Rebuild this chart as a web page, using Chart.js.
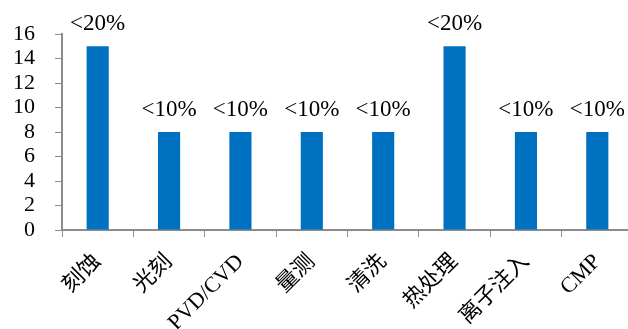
<!DOCTYPE html>
<html lang="en">
<head>
    <meta charset="UTF-8">
    <title>Bar chart</title>
    <script src="https://cdn.jsdelivr.net/npm/chart.js"></script>
    <style>
        body { margin: 0; overflow: hidden; background: #fff; }
    </style>
</head>
<body>
    <canvas id="myChart" width="633" height="329"></canvas>
    <script>
        // data
        const categories = ['刻蚀', '光刻', 'PVD/CVD', '量测', '清洗', '热处理', '离子注入', 'CMP'];
        const values = [15, 8, 8, 8, 8, 15, 8, 8];
        const shareLabels = ['<20%', '<10%', '<10%', '<10%', '<10%', '<20%', '<10%', '<10%'];
        const yTicks = [0, 2, 4, 6, 8, 10, 12, 14, 16];

        const fontFamily = "'Liberation Serif', 'Times New Roman', 'Noto Sans CJK SC', serif";
        const axisColor = '#8c8c8c';

        // draw the "<20%" labels above bars
        const shareLabelPlugin = {
            id: 'shareLabels',
            afterDatasetsDraw(chart) {
                const ctx = chart.ctx;
                const meta = chart.getDatasetMeta(0);
                ctx.save();
                ctx.font = '23px ' + fontFamily;
                ctx.fillStyle = '#000';
                ctx.textAlign = 'center';
                ctx.textBaseline = 'alphabetic';
                meta.data.forEach((bar, i) => {
                    ctx.fillText(shareLabels[i], bar.x, bar.y - 16);
                });
                ctx.restore();
            }
        };

        const ctx = document.getElementById('myChart').getContext('2d');
        const myChart = new Chart(ctx, {
            type: 'bar',
            data: {
                labels: categories,
                datasets: [{
                    data: values,
                    backgroundColor: '#0070c0',
                    borderWidth: 0,
                    barPercentage: 0.62,
                    categoryPercentage: 0.5
                }]
            },
            options: {
                responsive: false,
                animation: false,
                layout: { padding: { top: 34, left: 0, right: 0, bottom: 0 } },
                plugins: {
                    legend: { display: false },
                    tooltip: { enabled: false }
                },
                scales: {
                    x: {
                        grid: {
                            offset: true,
                            drawOnChartArea: false,
                            drawTicks: true,
                            tickLength: 7,
                            color: axisColor
                        },
                        border: { display: true, color: axisColor, width: 2 },
                        ticks: {
                            autoSkip: false,
                            minRotation: 45,
                            maxRotation: 45,
                            color: '#000',
                            padding: 12,
                            font: { family: fontFamily, size: 22 }
                        },
                        afterFit(scale) { scale.height = 99; }
                    },
                    y: {
                        min: 0,
                        max: 16,
                        afterBuildTicks(scale) {
                            scale.ticks = yTicks.map(v => ({ value: v }));
                        },
                        grid: {
                            drawOnChartArea: false,
                            drawTicks: true,
                            tickLength: 7,
                            color: axisColor
                        },
                        border: { display: true, color: axisColor, width: 2 },
                        ticks: {
                            autoSkip: false,
                            color: '#000',
                            padding: 20,
                            font: { family: fontFamily, size: 22 }
                        },
                        afterFit(scale) { scale.width = 62; }
                    }
                }
            },
            plugins: [shareLabelPlugin]
        });
    </script>
</body>
</html>
